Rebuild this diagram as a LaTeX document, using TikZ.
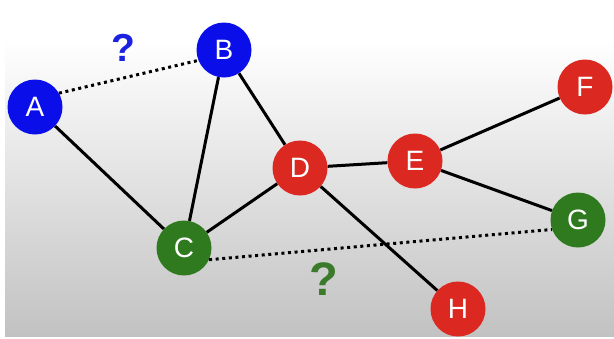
\documentclass[tikz,border=0pt]{standalone}
\usepackage{fontspec}
\setmainfont{Liberation Sans}
\definecolor{nodeblue}{HTML}{0A0FEA}
\definecolor{nodered}{HTML}{DB2820}
\definecolor{nodegreen}{HTML}{2F7A1F}
\definecolor{qblue}{HTML}{1A22E0}
\definecolor{qgreen}{HTML}{3A7A2A}
\tikzset{
  vertex/.style={circle, minimum size=55pt, inner sep=0pt, text=white,
    font=\fontsize{28}{28}\selectfont},
  bluev/.style={vertex, fill=nodeblue},
  redv/.style={vertex, fill=nodered},
  greenv/.style={vertex, fill=nodegreen},
  link/.style={line width=3pt, black},
  guess/.style={line width=3pt, black, dash pattern=on 3pt off 3.6pt},
  query/.style={font=\bfseries\fontsize{#1}{#1}\selectfont}
}
\begin{document}
\begin{tikzpicture}[x=1pt, y=-1pt]
  % canvas and fading backdrop
  \useasboundingbox (0,0) rectangle (614,338);
  \fill[white] (0,0) rectangle (614,338);
  \shade[top color=white, middle color=gray!12, bottom color=gray!48]
    (5,40) rectangle (614,336);

  % vertices
  \node[bluev]  (A) at (35,107)  {A};
  \node[bluev]  (B) at (224,50)  {B};
  \node[greenv] (C) at (184,248) {C};
  \node[redv]   (D) at (300,168) {D};
  \node[redv]   (E) at (415,161) {E};
  \node[redv]   (F) at (585,87)  {F};
  \node[greenv] (G) at (578,220) {G};
  \node[redv]   (H) at (458,309) {H};

  % known links
  \draw[link] (A) -- (C);
  \draw[link] (B) -- (C);
  \draw[link] (B) -- (D);
  \draw[link] (C) -- (D);
  \draw[link] (D) -- (E);
  \draw[link] (D) -- (H);
  \draw[link] (E) -- (F);
  \draw[link] (E) -- (G);

  % unknown links
  \draw[guess] (A.30) -- (B.202);
  \draw[guess] (C.-25) -- (G.200);

  % question marks
  \node[query=39, text=qblue]  (q1) at (123,48)  {?};
  \node[query=47, text=qgreen] (q2) at (324,279) {?};
\end{tikzpicture}
\end{document}
